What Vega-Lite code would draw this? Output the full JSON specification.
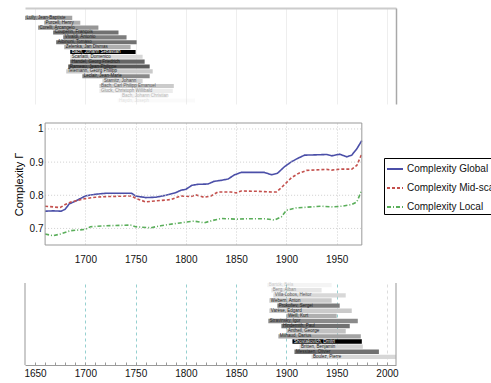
{
  "$schema": "https://vega.github.io/schema/vega-lite/v6.json",
  "padding": {"left": 13, "top": 8, "right": 0, "bottom": 0},
  "spacing": 18,
  "config": {
    "view": {"stroke": null},
    "font": "Liberation Sans",
    "axis": {"labelFont": "Liberation Sans", "titleFont": "Liberation Sans", "labelColor": "#111", "titleColor": "#000", "titleFontWeight": "normal", "labelFlush": false}
  },
  "resolve": {"scale": {"color": "independent", "opacity": "independent", "strokeDash": "independent"}, "legend": {"color": "independent", "opacity": "independent"}},
  "datasets": {
    "baroque": [
      {"row": 1, "composer": "Lully, Jean-Baptiste", "born": 1632, "died": 1687, "weight": 30},
      {"row": 2, "composer": "Purcell, Henry", "born": 1659, "died": 1695, "weight": 25},
      {"row": 3, "composer": "Corelli, Arcangelo", "born": 1653, "died": 1713, "weight": 35},
      {"row": 4, "composer": "Couperin, François", "born": 1668, "died": 1733, "weight": 50},
      {"row": 5, "composer": "Vivaldi, Antonio", "born": 1678, "died": 1741, "weight": 45},
      {"row": 6, "composer": "Albinoni, Tomaso", "born": 1671, "died": 1751, "weight": 50},
      {"row": 7, "composer": "Zelenka, Jan Dismas", "born": 1679, "died": 1745, "weight": 25},
      {"row": 8, "composer": "Bach, Johann Sebastian", "born": 1685, "died": 1750, "weight": 100},
      {"row": 9, "composer": "Scarlatti, Domenico", "born": 1685, "died": 1757, "weight": 10},
      {"row": 10, "composer": "Handel, Georg Friedrich", "born": 1685, "died": 1759, "weight": 55},
      {"row": 11, "composer": "Rameau, Jean-Philippe", "born": 1683, "died": 1764, "weight": 60},
      {"row": 12, "composer": "Telemann, Georg Philipp", "born": 1681, "died": 1767, "weight": 15},
      {"row": 13, "composer": "Leclair, Jean-Marie", "born": 1697, "died": 1764, "weight": 40},
      {"row": 14, "composer": "Stamitz, Johann", "born": 1717, "died": 1757, "weight": 15},
      {"row": 15, "composer": "Bach, Carl Philipp Emanuel", "born": 1714, "died": 1788, "weight": 25},
      {"row": 16, "composer": "Gluck, Christoph Willibald", "born": 1714, "died": 1787, "weight": 10},
      {"row": 17, "composer": "Bach, Johann Christian", "born": 1735, "died": 1782, "weight": 10},
      {"row": 18, "composer": "Haydn, Joseph", "born": 1732, "died": 1809, "weight": 10}
    ],
    "modern": [
      {"row": 1, "composer": "Bartók, Béla", "born": 1881, "died": 1945, "weight": 15},
      {"row": 2, "composer": "Berg, Alban", "born": 1885, "died": 1935, "weight": 15},
      {"row": 3, "composer": "Villa-Lobos, Heitor", "born": 1887, "died": 1959, "weight": 15},
      {"row": 4, "composer": "Webern, Anton", "born": 1883, "died": 1945, "weight": 15},
      {"row": 5, "composer": "Prokofiev, Sergei", "born": 1891, "died": 1953, "weight": 45},
      {"row": 6, "composer": "Varèse, Edgard", "born": 1883, "died": 1965, "weight": 15},
      {"row": 7, "composer": "Weill, Kurt", "born": 1900, "died": 1950, "weight": 25},
      {"row": 8, "composer": "Stravinsky, Igor", "born": 1882, "died": 1971, "weight": 40},
      {"row": 9, "composer": "Hindemith, Paul", "born": 1895, "died": 1963, "weight": 50},
      {"row": 10, "composer": "Antheil, George", "born": 1900, "died": 1959, "weight": 18},
      {"row": 11, "composer": "Milhaud, Darius", "born": 1892, "died": 1974, "weight": 30},
      {"row": 12, "composer": "Shostakovich, Dmitri", "born": 1906, "died": 1975, "weight": 100},
      {"row": 13, "composer": "Britten, Benjamin", "born": 1913, "died": 1976, "weight": 12},
      {"row": 14, "composer": "Messiaen, Olivier", "born": 1908, "died": 1992, "weight": 50},
      {"row": 15, "composer": "Boulez, Pierre", "born": 1925, "died": 2016, "weight": 10}
    ],
    "complexity": [
      {"series": "Complexity Global", "year": 1660, "value": 0.752},
      {"series": "Complexity Global", "year": 1668, "value": 0.753},
      {"series": "Complexity Global", "year": 1676, "value": 0.752},
      {"series": "Complexity Global", "year": 1680, "value": 0.758},
      {"series": "Complexity Global", "year": 1684, "value": 0.774},
      {"series": "Complexity Global", "year": 1690, "value": 0.782},
      {"series": "Complexity Global", "year": 1695, "value": 0.79},
      {"series": "Complexity Global", "year": 1700, "value": 0.798},
      {"series": "Complexity Global", "year": 1710, "value": 0.803},
      {"series": "Complexity Global", "year": 1720, "value": 0.806},
      {"series": "Complexity Global", "year": 1735, "value": 0.806},
      {"series": "Complexity Global", "year": 1746, "value": 0.806},
      {"series": "Complexity Global", "year": 1750, "value": 0.798},
      {"series": "Complexity Global", "year": 1760, "value": 0.793},
      {"series": "Complexity Global", "year": 1770, "value": 0.794},
      {"series": "Complexity Global", "year": 1780, "value": 0.8},
      {"series": "Complexity Global", "year": 1790, "value": 0.808},
      {"series": "Complexity Global", "year": 1795, "value": 0.815},
      {"series": "Complexity Global", "year": 1800, "value": 0.818},
      {"series": "Complexity Global", "year": 1806, "value": 0.83},
      {"series": "Complexity Global", "year": 1812, "value": 0.833},
      {"series": "Complexity Global", "year": 1822, "value": 0.834},
      {"series": "Complexity Global", "year": 1828, "value": 0.842},
      {"series": "Complexity Global", "year": 1835, "value": 0.845},
      {"series": "Complexity Global", "year": 1842, "value": 0.849},
      {"series": "Complexity Global", "year": 1848, "value": 0.861},
      {"series": "Complexity Global", "year": 1855, "value": 0.869},
      {"series": "Complexity Global", "year": 1865, "value": 0.869},
      {"series": "Complexity Global", "year": 1878, "value": 0.869},
      {"series": "Complexity Global", "year": 1885, "value": 0.862},
      {"series": "Complexity Global", "year": 1891, "value": 0.866},
      {"series": "Complexity Global", "year": 1898, "value": 0.886},
      {"series": "Complexity Global", "year": 1905, "value": 0.901},
      {"series": "Complexity Global", "year": 1911, "value": 0.911},
      {"series": "Complexity Global", "year": 1918, "value": 0.921},
      {"series": "Complexity Global", "year": 1930, "value": 0.922},
      {"series": "Complexity Global", "year": 1940, "value": 0.923},
      {"series": "Complexity Global", "year": 1945, "value": 0.919},
      {"series": "Complexity Global", "year": 1953, "value": 0.924},
      {"series": "Complexity Global", "year": 1960, "value": 0.916},
      {"series": "Complexity Global", "year": 1965, "value": 0.921},
      {"series": "Complexity Global", "year": 1970, "value": 0.94},
      {"series": "Complexity Global", "year": 1975, "value": 0.965},
      {"series": "Complexity Mid-scale", "year": 1660, "value": 0.767},
      {"series": "Complexity Mid-scale", "year": 1675, "value": 0.763},
      {"series": "Complexity Mid-scale", "year": 1680, "value": 0.772},
      {"series": "Complexity Mid-scale", "year": 1685, "value": 0.779},
      {"series": "Complexity Mid-scale", "year": 1690, "value": 0.783},
      {"series": "Complexity Mid-scale", "year": 1700, "value": 0.79},
      {"series": "Complexity Mid-scale", "year": 1710, "value": 0.794},
      {"series": "Complexity Mid-scale", "year": 1720, "value": 0.796},
      {"series": "Complexity Mid-scale", "year": 1746, "value": 0.798},
      {"series": "Complexity Mid-scale", "year": 1750, "value": 0.791},
      {"series": "Complexity Mid-scale", "year": 1760, "value": 0.78},
      {"series": "Complexity Mid-scale", "year": 1770, "value": 0.783},
      {"series": "Complexity Mid-scale", "year": 1785, "value": 0.787},
      {"series": "Complexity Mid-scale", "year": 1795, "value": 0.798},
      {"series": "Complexity Mid-scale", "year": 1805, "value": 0.796},
      {"series": "Complexity Mid-scale", "year": 1810, "value": 0.801},
      {"series": "Complexity Mid-scale", "year": 1818, "value": 0.794},
      {"series": "Complexity Mid-scale", "year": 1825, "value": 0.798},
      {"series": "Complexity Mid-scale", "year": 1832, "value": 0.81},
      {"series": "Complexity Mid-scale", "year": 1845, "value": 0.81},
      {"series": "Complexity Mid-scale", "year": 1850, "value": 0.807},
      {"series": "Complexity Mid-scale", "year": 1855, "value": 0.813},
      {"series": "Complexity Mid-scale", "year": 1870, "value": 0.812},
      {"series": "Complexity Mid-scale", "year": 1885, "value": 0.81},
      {"series": "Complexity Mid-scale", "year": 1890, "value": 0.81},
      {"series": "Complexity Mid-scale", "year": 1895, "value": 0.823},
      {"series": "Complexity Mid-scale", "year": 1905, "value": 0.853},
      {"series": "Complexity Mid-scale", "year": 1912, "value": 0.866},
      {"series": "Complexity Mid-scale", "year": 1920, "value": 0.875},
      {"series": "Complexity Mid-scale", "year": 1940, "value": 0.878},
      {"series": "Complexity Mid-scale", "year": 1945, "value": 0.876},
      {"series": "Complexity Mid-scale", "year": 1955, "value": 0.879},
      {"series": "Complexity Mid-scale", "year": 1965, "value": 0.879},
      {"series": "Complexity Mid-scale", "year": 1970, "value": 0.89},
      {"series": "Complexity Mid-scale", "year": 1975, "value": 0.925},
      {"series": "Complexity Local", "year": 1660, "value": 0.683},
      {"series": "Complexity Local", "year": 1668, "value": 0.678},
      {"series": "Complexity Local", "year": 1675, "value": 0.683},
      {"series": "Complexity Local", "year": 1685, "value": 0.693},
      {"series": "Complexity Local", "year": 1700, "value": 0.697},
      {"series": "Complexity Local", "year": 1705, "value": 0.705},
      {"series": "Complexity Local", "year": 1720, "value": 0.708},
      {"series": "Complexity Local", "year": 1745, "value": 0.71},
      {"series": "Complexity Local", "year": 1750, "value": 0.705},
      {"series": "Complexity Local", "year": 1765, "value": 0.702},
      {"series": "Complexity Local", "year": 1775, "value": 0.708},
      {"series": "Complexity Local", "year": 1790, "value": 0.715},
      {"series": "Complexity Local", "year": 1800, "value": 0.719},
      {"series": "Complexity Local", "year": 1808, "value": 0.722},
      {"series": "Complexity Local", "year": 1818, "value": 0.717},
      {"series": "Complexity Local", "year": 1828, "value": 0.725},
      {"series": "Complexity Local", "year": 1835, "value": 0.73},
      {"series": "Complexity Local", "year": 1850, "value": 0.728},
      {"series": "Complexity Local", "year": 1860, "value": 0.729},
      {"series": "Complexity Local", "year": 1880, "value": 0.729},
      {"series": "Complexity Local", "year": 1888, "value": 0.725},
      {"series": "Complexity Local", "year": 1895, "value": 0.735},
      {"series": "Complexity Local", "year": 1900, "value": 0.755},
      {"series": "Complexity Local", "year": 1910, "value": 0.762},
      {"series": "Complexity Local", "year": 1920, "value": 0.764},
      {"series": "Complexity Local", "year": 1935, "value": 0.767},
      {"series": "Complexity Local", "year": 1945, "value": 0.765},
      {"series": "Complexity Local", "year": 1955, "value": 0.767},
      {"series": "Complexity Local", "year": 1965, "value": 0.772},
      {"series": "Complexity Local", "year": 1970, "value": 0.78},
      {"series": "Complexity Local", "year": 1975, "value": 0.815}
    ]
  },
  "vconcat": [
    {
      "width": 371,
      "height": 96,
      "data": {"name": "baroque"},
      "layer": [
        {
          "mark": {"type": "bar"},
          "encoding": {
            "y": {"field": "composer", "type": "nominal", "sort": {"field": "row", "op": "min"},
                  "scale": {"paddingInner": 0.15, "paddingOuter": 0.95, "align": 0.85},
                  "axis": {"orient": "right", "title": null, "labels": false, "ticks": false, "domain": true, "domainColor": "#a8a8a8", "domainWidth": 1.5, "grid": false}},
            "x": {"field": "born", "type": "quantitative",
                  "scale": {"domain": [1640, 2009], "nice": false, "zero": false, "clamp": true},
                  "axis": {"orient": "top", "title": null, "values": [1650, 1700, 1750, 1800, 1850, 1900, 1950, 2000], "labels": false, "ticks": false, "domainColor": "#cccccc", "domainWidth": 2, "grid": true, "gridColor": "#eeeeee"}},
            "x2": {"field": "died"},
            "color": {"field": "weight", "type": "quantitative", "scale": {"domain": [0, 100], "range": ["#f2f2f2", "#000000"]}, "legend": null},
            "opacity": {"field": "row", "type": "quantitative", "scale": {"domain": [13, 18], "range": [1, 0.12], "clamp": true}, "legend": null}
          }
        },
        {
          "mark": {"type": "text", "align": "left", "baseline": "middle", "dx": 1.5, "fontSize": 4.5},
          "encoding": {
            "y": {"field": "composer", "type": "nominal", "sort": {"field": "row", "op": "min"},
                  "axis": {"orient": "right", "title": null, "labels": false, "ticks": false, "domain": true, "domainColor": "#a8a8a8", "domainWidth": 1.5, "grid": false}},
            "x": {"field": "born", "type": "quantitative",
                  "axis": {"orient": "top", "title": null, "values": [1650, 1700, 1750, 1800, 1850, 1900, 1950, 2000], "labels": false, "ticks": false, "domainColor": "#cccccc", "domainWidth": 2, "grid": true, "gridColor": "#eeeeee"}},
            "text": {"field": "composer"},
            "color": {"condition": {"test": "datum.weight > 80", "value": "#ffffff"}, "value": "#222222"},
            "opacity": {"field": "row", "type": "quantitative", "legend": null}
          }
        }
      ]
    },
    {
      "width": 371,
      "height": 122,
      "layer": [
        {
          "data": {"name": "complexity"},
          "mark": {"type": "line", "strokeWidth": 1.6},
          "encoding": {
            "x": {"field": "year", "type": "quantitative",
                  "scale": {"domain": [1640, 2009], "nice": false, "zero": false},
                  "axis": {"title": null, "values": [1700, 1750, 1800, 1850, 1900, 1950], "format": "d", "domain": false, "ticks": false, "labelPadding": 9, "labelFontSize": 10, "labelOverlap": false, "grid": true, "gridColor": "#cfcfcf", "gridDash": [1, 2]}},
            "y": {"field": "value", "type": "quantitative",
                  "scale": {"domain": [0.65, 1.018], "nice": false, "zero": false},
                  "axis": {"orient": "left", "offset": -21, "title": "Complexity  Γ", "titleFontSize": 11, "titlePadding": 5, "labelFontSize": 10, "labelPadding": 3, "ticks": false, "domain": false, "grid": false, "values": [0.7, 0.8, 0.9, 1], "format": "~g"}},
            "color": {"field": "series", "type": "nominal",
                      "scale": {"domain": ["Complexity Global", "Complexity Mid-scale", "Complexity Local"], "range": ["#4b4fa8", "#c4504d", "#5aae5a"]},
                      "legend": {"title": null, "orient": "none", "legendX": 359, "legendY": 35, "strokeColor": "#000000", "fillColor": "#ffffff", "padding": 2, "labelFontSize": 10, "labelColor": "#111111", "symbolSize": 256, "symbolStrokeWidth": 1.8, "rowPadding": 5, "labelOffset": 3, "labelLimit": 300}},
            "strokeDash": {"field": "series", "type": "nominal",
                           "scale": {"domain": ["Complexity Global", "Complexity Mid-scale", "Complexity Local"], "range": [[1, 0], [3, 2], [4, 2, 1, 2]]},
                           "legend": {"title": null, "orient": "none", "legendX": 359, "legendY": 35, "strokeColor": "#000000", "fillColor": "#ffffff", "padding": 2, "labelFontSize": 10, "labelColor": "#111111", "symbolSize": 256, "symbolStrokeWidth": 1.8, "rowPadding": 5, "labelOffset": 3, "labelLimit": 300}}
          }
        },
        {
          "data": {"values": [{"tick": 0.7}, {"tick": 0.8}, {"tick": 0.9}, {"tick": 1.0}]},
          "mark": {"type": "rule", "color": "#cfcfcf", "strokeDash": [1, 2], "strokeWidth": 1},
          "encoding": {
            "y": {"field": "tick", "type": "quantitative",
                  "axis": {"orient": "left", "offset": -21, "title": "Complexity  Γ", "titleFontSize": 11, "titlePadding": 5, "labelFontSize": 10, "labelPadding": 3, "ticks": false, "domain": false, "grid": false, "values": [0.7, 0.8, 0.9, 1], "format": "~g"}},
            "x": {"datum": 1660, "type": "quantitative",
                  "axis": {"title": null, "values": [1700, 1750, 1800, 1850, 1900, 1950], "format": "d", "domain": false, "ticks": false, "labelPadding": 9, "labelFontSize": 10, "labelOverlap": false, "grid": true, "gridColor": "#cfcfcf", "gridDash": [1, 2]}},
            "x2": {"datum": 1975}
          }
        },
        {
          "data": {"values": [{}]},
          "mark": {"type": "rect", "fill": null, "fillOpacity": 0, "stroke": "#999999", "strokeWidth": 1},
          "encoding": {
            "x": {"datum": 1660, "type": "quantitative",
                  "axis": {"title": null, "values": [1700, 1750, 1800, 1850, 1900, 1950], "format": "d", "domain": false, "ticks": false, "labelPadding": 9, "labelFontSize": 10, "labelOverlap": false, "grid": true, "gridColor": "#cfcfcf", "gridDash": [1, 2]}},
            "x2": {"datum": 1975},
            "y": {"datum": 0.65, "type": "quantitative",
                  "axis": {"orient": "left", "offset": -21, "title": "Complexity  Γ", "titleFontSize": 11, "titlePadding": 5, "labelFontSize": 10, "labelPadding": 3, "ticks": false, "domain": false, "grid": false, "values": [0.7, 0.8, 0.9, 1], "format": "~g"}},
            "y2": {"datum": 1.018}
          }
        }
      ]
    },
    {
      "width": 371,
      "height": 82,
      "layer": [
        {
          "data": {"name": "modern"},
          "mark": {"type": "bar"},
          "encoding": {
            "y": {"field": "composer", "type": "nominal", "sort": {"field": "row", "op": "min"},
                  "scale": {"paddingInner": 0.15, "paddingOuter": 0.58, "align": 0}, "axis": null},
            "x": {"field": "born", "type": "quantitative",
                  "scale": {"domain": [1640, 2009], "nice": false, "zero": false, "clamp": true},
                  "axis": {"orient": "bottom", "title": null, "values": [1650, 1660, 1670, 1680, 1690, 1700, 1710, 1720, 1730, 1740, 1750, 1760, 1770, 1780, 1790, 1800, 1810, 1820, 1830, 1840, 1850, 1860, 1870, 1880, 1890, 1900, 1910, 1920, 1930, 1940, 1950, 1960, 1970, 1980, 1990, 2000],
                           "format": "d", "labelExpr": "datum.value % 50 === 0 ? datum.label : ''", "labelFontSize": 10, "labelPadding": 6, "tickSize": -3, "tickColor": "#9a9a9a", "domainColor": "#9a9a9a", "labelOverlap": false, "labelBound": false,
                           "grid": true, "gridDash": [3, 3],
                           "gridColor": {"condition": {"test": "datum.value === 2000", "value": "#dddddd"}, "value": "#96d0d0"},
                           "gridOpacity": {"condition": {"test": "datum.value % 50 === 0 && datum.value >= 1700", "value": 1}, "value": 0}}},
            "x2": {"field": "died"},
            "color": {"field": "weight", "type": "quantitative", "scale": {"domain": [0, 100], "range": ["#f2f2f2", "#000000"]}, "legend": null},
            "opacity": {"field": "row", "type": "quantitative", "scale": {"domain": [1, 4], "range": [0.2, 1], "clamp": true}, "legend": null}
          }
        },
        {
          "data": {"name": "modern"},
          "mark": {"type": "text", "align": "left", "baseline": "middle", "dx": 1.5, "fontSize": 4.5},
          "encoding": {
            "y": {"field": "composer", "type": "nominal", "sort": {"field": "row", "op": "min"}, "axis": null},
            "x": {"field": "born", "type": "quantitative",
                  "axis": {"orient": "bottom", "title": null, "values": [1650, 1660, 1670, 1680, 1690, 1700, 1710, 1720, 1730, 1740, 1750, 1760, 1770, 1780, 1790, 1800, 1810, 1820, 1830, 1840, 1850, 1860, 1870, 1880, 1890, 1900, 1910, 1920, 1930, 1940, 1950, 1960, 1970, 1980, 1990, 2000],
                           "format": "d", "labelExpr": "datum.value % 50 === 0 ? datum.label : ''", "labelFontSize": 10, "labelPadding": 6, "tickSize": -3, "tickColor": "#9a9a9a", "domainColor": "#9a9a9a", "labelOverlap": false, "labelBound": false,
                           "grid": true, "gridDash": [3, 3],
                           "gridColor": {"condition": {"test": "datum.value === 2000", "value": "#dddddd"}, "value": "#96d0d0"},
                           "gridOpacity": {"condition": {"test": "datum.value % 50 === 0 && datum.value >= 1700", "value": 1}, "value": 0}}},
            "text": {"field": "composer"},
            "color": {"condition": {"test": "datum.weight > 80", "value": "#ffffff"}, "value": "#222222"},
            "opacity": {"field": "row", "type": "quantitative", "legend": null}
          }
        },
        {
          "data": {"values": [{"edge": 1640}, {"edge": 2009}]},
          "mark": {"type": "rule", "color": "#a8a8a8", "strokeWidth": 1.2},
          "encoding": {
            "x": {"field": "edge", "type": "quantitative",
                  "axis": {"orient": "bottom", "title": null, "values": [1650, 1660, 1670, 1680, 1690, 1700, 1710, 1720, 1730, 1740, 1750, 1760, 1770, 1780, 1790, 1800, 1810, 1820, 1830, 1840, 1850, 1860, 1870, 1880, 1890, 1900, 1910, 1920, 1930, 1940, 1950, 1960, 1970, 1980, 1990, 2000],
                           "format": "d", "labelExpr": "datum.value % 50 === 0 ? datum.label : ''", "labelFontSize": 10, "labelPadding": 6, "tickSize": -3, "tickColor": "#9a9a9a", "domainColor": "#9a9a9a", "labelOverlap": false, "labelBound": false,
                           "grid": true, "gridDash": [3, 3],
                           "gridColor": {"condition": {"test": "datum.value === 2000", "value": "#dddddd"}, "value": "#96d0d0"},
                           "gridOpacity": {"condition": {"test": "datum.value % 50 === 0 && datum.value >= 1700", "value": 1}, "value": 0}}}
          }
        }
      ]
    }
  ]
}
